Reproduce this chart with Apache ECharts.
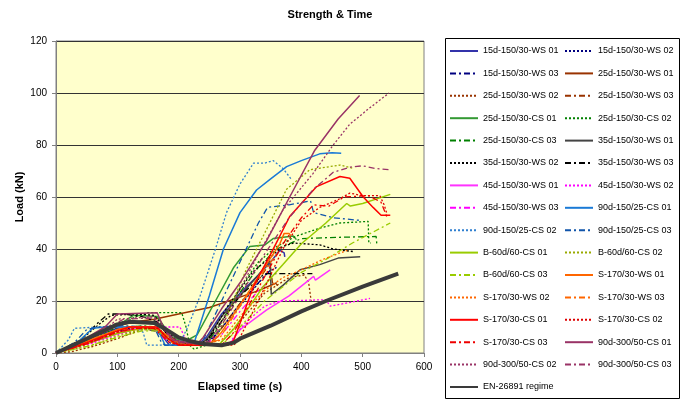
<!DOCTYPE html>
<html>
<head>
<meta charset="utf-8">
<script src="https://cdn.jsdelivr.net/npm/echarts@6/dist/echarts.min.js"></script>
<style>
  html, body { margin: 0; padding: 0; background: #fff; }
  #chart { width: 681px; height: 400px; }
</style>
</head>
<body>
<div id="chart"></div>
<script>
// axis ticks
var xTicks = [0, 100, 200, 300, 400, 500, 600];
var yTicks = [0, 20, 40, 60, 80, 100, 120];

// series names, in legend order
var names = [
  '15d-150/30-WS 01', '15d-150/30-WS 02', '15d-150/30-WS 03', '25d-150/30-WS 01',
  '25d-150/30-WS 02', '25d-150/30-WS 03', '25d-150/30-CS 01', '25d-150/30-CS 02',
  '25d-150/30-CS 03', '35d-150/30-WS 01', '35d-150/30-WS 02', '35d-150/30-WS 03',
  '45d-150/30-WS 01', '45d-150/30-WS 02', '45d-150/30-WS 03', '90d-150/25-CS 01',
  '90d-150/25-CS 02', '90d-150/25-CS 03', 'B-60d/60-CS 01', 'B-60d/60-CS 02',
  'B-60d/60-CS 03', 'S-170/30-WS 01', 'S-170/30-WS 02', 'S-170/30-WS 03',
  'S-170/30-CS 01', 'S-170/30-CS 02', 'S-170/30-CS 03', '90d-300/50-CS 01',
  '90d-300/50-CS 02', '90d-300/50-CS 03', 'EN-26891 regime'
];

// [elapsed time (s), load (kN)]
var d15ws01 = [[0,0],[30,2.5],[60,6],[100,9.5],[120,10],[160,10],[175,6],[185,3],[230,3],[245,6],[270,15],[300,23],[330,30],[350,35],[365,39.5],[372,38.5],[373,37]];
var d15ws02 = [[0,0],[40,3],[80,7],[120,9.5],[165,9.5],[185,4],[200,3],[240,3],[260,7],[290,15],[320,24],[345,31],[360,33]];
var d15ws03 = [[0,0],[50,4],[100,8.5],[140,9.5],[170,8],[195,3],[245,3],[265,8],[300,19],[330,27],[350,32]];
var d25ws01 = [[0,0],[50,5],[100,10.5],[130,12],[160,13],[200,15],[250,17.5],[300,21.5],[330,24],[360,27]];
var d25ws02 = [[0,0],[25,0.5],[60,2.5],[100,5.5],[140,9],[170,9],[190,4],[210,3],[265,3],[300,12],[340,23],[380,29],[405,30],[412,27],[416,20]];
var d25ws03 = [[0,0],[50,4],[100,9],[150,10],[175,7],[195,3],[250,3],[290,16],[330,28],[349,34.5],[353,27],[362,26]];
var d25cs01 = [[0,0],[40,4],[80,8.5],[110,12],[126,14.5],[165,14],[180,9],[200,5],[215,5],[230,7],[260,20],[290,33],[316,41],[340,41.5],[354,44],[387,45],[392,43.6]];
var d25cs02 = [[0,0],[50,4],[100,10],[130,14],[150,15.5],[205,15.5],[212,10],[218,3],[225,1.5],[245,3],[270,12],[300,25],[330,35],[360,41],[392,45],[430,48],[463,50],[509,50.6],[510,42.3],[513,42.3]];
var d25cs03 = [[0,0],[50,4],[100,9],[140,10.5],[165,10],[185,5],[200,3],[240,3],[260,8],[290,20],[330,33],[360,40],[400,44],[460,44.5],[522,44.8],[523,42]];
var d35ws01 = [[0,0],[40,4],[80,9],[110,12],[160,12],[180,8],[200,4],[230,3],[245,5],[270,14],[300,22],[330,30],[349,35.5],[351,22.5],[370,26],[398,32],[430,34],[460,36.5],[496,37]];
var d35ws02 = [[0,0],[40,5],[70,11],[90,14.5],[130,15],[160,14.5],[180,9],[200,4],[235,3],[250,6],[280,18],[320,31],[350,37],[370,41],[387,42.3],[430,41.6],[452,40],[485,39]];
var d35ws03 = [[0,0],[40,5],[68,11.5],[85,15],[110,15],[140,14],[165,12],[185,6],[205,4],[240,3],[260,9],[300,22],[340,30.5],[380,30.5],[418,30.5]];
var d45ws01 = [[0,0],[50,3.5],[100,7.5],[130,9.5],[165,9.5],[180,6],[200,3],[260,3],[285,4],[300,9],[343,16.5],[380,22],[420,29.5],[423,28],[447,32]];
var d45ws02 = [[0,0],[50,3],[100,7],[140,9.5],[165,10],[202,10],[210,6],[225,3],[280,3],[310,12],[340,18],[365,20],[440,20.5],[447,18],[480,19.5],[512,21]];
var d45ws03 = [[0,0],[50,3.5],[100,7.5],[140,9.5],[160,9],[180,5],[200,3],[240,3],[270,7],[300,16],[330,24],[345,27]];
var d90cs01 = [[0,0],[30,3],[60,9.5],[80,10],[120,10],[160,10],[170,7],[178,3],[224,3],[250,22],[273,40],[300,54],[327,62.7],[350,67],[376,71.7],[400,74],[430,76.6],[450,77],[465,76.8]];
var d90cs02 = [[0,0],[20,5],[30,9.5],[70,10],[130,10],[142,8],[148,3],[200,3],[215,10],[235,22],[260,40],[278,54],[300,65],[322,73],[340,73],[354,74],[370,71],[383,67]];
var d90cs03 = [[0,0],[30,4],[50,9],[70,10],[110,10.5],[160,10],[172,4],[178,3],[225,3],[240,5],[270,20],[300,35],[330,50],[345,56],[380,57],[415,58.5],[420,54],[452,52],[496,51]];
var dB60cs01 = [[0,0],[50,3.5],[100,7.5],[140,9.5],[165,9],[185,5],[210,3],[265,3],[289,9],[310,16],[338,25.6],[370,34],[400,42],[440,50],[474,57.5],[480,56.5],[500,57.5],[545,61]];
var dB60cs02 = [[0,0],[60,3],[100,6.5],[140,9],[165,9],[190,5],[215,3],[255,3],[280,15],[310,32],[340,46],[376,63],[414,70.5],[463,72.3],[485,71]];
var dB60cs03 = [[0,0],[50,2.5],[100,6],[140,8.5],[165,8.5],[190,4],[215,3],[270,3],[300,10],[340,20],[400,31],[440,36],[484,42.4],[545,50]];
var dS170ws01 = [[0,0],[50,4.5],[100,9],[120,10],[160,10],[180,7],[200,4],[215,3],[250,3],[270,8],[310,22],[340,33],[365,42],[372,46],[380,46],[383,45]];
var dS170ws02 = [[0,0],[50,4],[100,8],[140,9.5],[165,9.5],[190,4],[230,3],[270,5],[300,14],[340,24],[370,29],[400,32],[435,36],[475,39.5]];
var dS170ws03 = [[0,0],[50,4],[100,8.5],[130,10],[160,10],[190,4],[240,3],[265,5],[300,18],[340,32],[360,38]];
var dS170cs01 = [[0,0],[50,4],[100,8.5],[120,10],[165,10],[180,6],[200,3],[280,3],[290,5],[322,25.6],[350,38],[381,52.5],[425,64],[463,67.9],[479,67.2],[501,60],[517,56],[530,53],[545,53]];
var dS170cs02 = [[0,0],[50,3.5],[100,8],[130,9.5],[165,9.5],[185,5],[205,3],[290,3],[300,6],[330,20],[370,40],[400,51],[430,56],[460,59],[479,61.5],[500,60.5],[528,60.5],[535,57],[539,54]];
var dS170cs03 = [[0,0],[50,3.5],[100,8],[130,9.5],[160,9.5],[185,4],[210,3],[270,3],[290,8],[330,25],[370,42],[400,52],[420,57],[445,56.5],[470,60],[510,60.5],[530,58],[540,52]];
var d90b01 = [[0,0],[40,4.5],[80,10],[100,15],[165,15.5],[175,10],[190,5],[230,3.5],[240,6],[270,17],[300,27],[343,43],[381,60],[422,78],[460,90],[495,99]];
var d90b02 = [[0,0],[40,4],[80,9],[100,13],[160,14],[175,9],[195,4],[240,3.5],[255,6],[290,20],[330,38],[370,55],[419,69],[452,80],[479,88],[510,94],[543,100]];
var d90b03 = [[0,0],[40,4],[80,9],[110,13],[160,13.5],[180,8],[200,4],[245,3.5],[260,7],[300,22],[340,38],[380,52],[420,63],[452,69.5],[480,71.5],[500,72],[520,71],[545,70.5]];
var dEN = [[0,0],[50,5.5],[100,11],[120,12],[160,11.5],[180,9],[200,6],[220,4.5],[240,3.5],[270,3],[290,4],[300,5.5],[350,10.5],[400,16],[440,20],[500,25.5],[558,30.5]];

var dataList = [d15ws01, d15ws02, d15ws03, d25ws01, d25ws02, d25ws03, d25cs01, d25cs02, d25cs03,
  d35ws01, d35ws02, d35ws03, d45ws01, d45ws02, d45ws03, d90cs01, d90cs02, d90cs03,
  dB60cs01, dB60cs02, dB60cs03, dS170ws01, dS170ws02, dS170ws03, dS170cs01, dS170cs02, dS170cs03,
  d90b01, d90b02, d90b03, dEN];

var DOT = [2, 2];
var DASHDOT = [6, 3, 2, 3];
var styles = [
  ['#3333aa', 'solid'], ['#000080', DOT], ['#000080', DASHDOT],
  ['#993300', 'solid'], ['#993300', DOT], ['#993300', DASHDOT],
  ['#339933', 'solid'], ['#008000', DOT], ['#008000', DASHDOT],
  ['#444444', 'solid'], ['#000000', DOT], ['#000000', DASHDOT],
  ['#ff33ff', 'solid'], ['#ff00ff', DOT], ['#ff00ff', DASHDOT],
  ['#1a7ad6', 'solid'], ['#2f7fd0', DOT], ['#1155aa', DASHDOT],
  ['#99cc00', 'solid'], ['#99aa00', DOT], ['#99cc00', DASHDOT],
  ['#ff6600', 'solid'], ['#ff6600', DOT], ['#ff6600', DASHDOT],
  ['#ff0000', 'solid'], ['#dd0000', DOT], ['#ee0000', DASHDOT],
  ['#993366', 'solid'], ['#993366', DOT], ['#993366', DASHDOT],
  ['#3a3a3a', 'solid']
];

var chart = echarts.init(document.getElementById('chart'));

var series = names.map(function (n, i) {
  var isEN = i === names.length - 1;
  var solid = styles[i][1] === 'solid';
  return {
    name: n,
    type: 'line',
    data: dataList[i],
    symbol: 'none',
    z: isEN ? 5 : 3,
    lineStyle: {
      color: styles[i][0],
      type: styles[i][1],
      width: isEN ? 4 : (solid ? 1.5 : 1.3)
    },
    itemStyle: { color: styles[i][0] }
  };
});

var leftNames = names.filter(function (n, i) { return i % 2 === 0; });
var rightNames = names.filter(function (n, i) { return i % 2 === 1; });

var legendBase = {
  orient: 'vertical',
  top: 45,
  padding: 0,
  itemWidth: 28,
  itemHeight: 12,
  itemGap: 10.4,
  // hide the round marker ECharts puts on line legend icons
  itemStyle: { color: 'rgba(0,0,0,0)', borderColor: 'rgba(0,0,0,0)', borderWidth: 0 },
  textStyle: { fontFamily: 'Liberation Sans', fontSize: 9, color: '#000', lineHeight: 12 }
};

var option = {
  animation: false,
  backgroundColor: '#fff',
  textStyle: { fontFamily: 'Liberation Sans' },
  title: {
    text: 'Strength & Time',
    left: 325,
    textAlign: 'center',
    top: 4,
    textStyle: { fontFamily: 'Liberation Sans', fontSize: 11, fontWeight: 'bold', color: '#000' }
  },
  legend: [
    Object.assign({}, legendBase, { left: 449, data: leftNames }),
    Object.assign({}, legendBase, { left: 564, data: rightNames })
  ],
  graphic: [{
    type: 'rect',
    shape: { x: 445.5, y: 38.5, width: 234, height: 360 },
    style: { fill: 'none', stroke: '#000', lineWidth: 1 },
    z: -1
  }],
  grid: {
    left: 56, right: 257, top: 41, bottom: 47,
    show: true,
    backgroundColor: '#ffffcc',
    borderColor: '#808080',
    borderWidth: 1
  },
  xAxis: {
    type: 'value',
    min: xTicks[0], max: xTicks[xTicks.length - 1], interval: 100,
    name: 'Elapsed time (s)',
    nameLocation: 'middle',
    nameGap: 28,
    nameMoveOverlap: false,
    nameTextStyle: { fontSize: 11, fontWeight: 'bold', color: '#000' },
    axisLine: { lineStyle: { color: '#808080' } },
    axisTick: { show: true, length: 4, lineStyle: { color: '#808080' } },
    axisLabel: { fontSize: 10, color: '#000', margin: 9 },
    splitLine: { show: false }
  },
  yAxis: {
    type: 'value',
    min: yTicks[0], max: yTicks[yTicks.length - 1], interval: 20,
    name: 'Load (kN)',
    nameLocation: 'middle',
    nameGap: 31,
    nameMoveOverlap: false,
    nameRotate: 90,
    nameTextStyle: { fontSize: 11, fontWeight: 'bold', color: '#000' },
    axisLine: { show: true, lineStyle: { color: '#808080' } },
    axisTick: { show: true, length: 4, lineStyle: { color: '#808080' } },
    axisLabel: { fontSize: 10, color: '#000', margin: 9 },
    splitLine: { show: true, lineStyle: { color: '#333', width: 1 } }
  },
  series: series
};

chart.setOption(option);
</script>
</body>
</html>
